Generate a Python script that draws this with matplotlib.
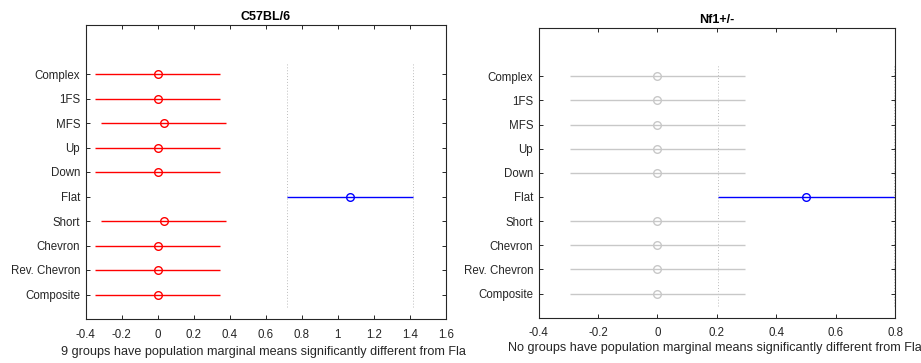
import matplotlib
matplotlib.use("Agg")
import matplotlib.pyplot as plt
from matplotlib.transforms import Bbox, TransformedBbox

plt.rcParams['font.family'] = ['Liberation Sans', 'DejaVu Sans']

# Groups, listed top to bottom
groups = ["Complex", "1FS", "MFS", "Up", "Down", "Flat", "Short",
          "Chevron", "Rev. Chevron", "Composite"]

# C57BL/6: population marginal means and comparison interval half-widths
wt_means = [0.0, 0.0, 0.034, 0.0, 0.0, 1.068, 0.034, 0.0, 0.0, 0.0]
wt_half = [0.347, 0.347, 0.347, 0.347, 0.347, 0.348, 0.347, 0.347, 0.347, 0.347]
wt_colors = ["red", "red", "red", "red", "red", "blue", "red", "red", "red", "red"]
wt_xticks = [-0.4, -0.2, 0, 0.2, 0.4, 0.6, 0.8, 1, 1.2, 1.4, 1.6]
wt_xticklabels = ["-0.4", "-0.2", "0", "0.2", "0.4", "0.6", "0.8", "1", "1.2", "1.4", "1.6"]

# Nf1+/-
nf_means = [0.0, 0.0, 0.0, 0.0, 0.0, 0.5, 0.0, 0.0, 0.0, 0.0]
nf_half = [0.295] * 10
nf_colors = ["#c8c8c8"] * 5 + ["blue"] + ["#c8c8c8"] * 4
nf_xticks = [-0.4, -0.2, 0, 0.2, 0.4, 0.6, 0.8]
nf_xticklabels = ["-0.4", "-0.2", "0", "0.2", "0.4", "0.6", "0.8"]

ref_group = "Flat"
txt = "#262626"

fig = plt.figure(figsize=(9.21, 3.63), dpi=100)
ax1 = fig.add_axes([85.7 / 921, 1 - 319 / 363, 360 / 921, 294 / 363])
ax2 = fig.add_axes([538.7 / 921, 1 - 317.7 / 363, 356.3 / 921, 289.7 / 363])


def draw_panel(ax, means, half, colors, xticks, xticklabels, xlim, title, xlabel, labelpad):
    n = len(groups)
    ypos = list(range(n, 0, -1))
    for y, m, h, c in zip(ypos, means, half, colors):
        ax.plot([m - h, m + h], [y, y], color=c, lw=1.0, solid_capstyle="butt", zorder=2)
        ax.plot([m], [y], marker="o", ms=5.5, mfc="none", mec=c, mew=1.0, zorder=3)
    k = groups.index(ref_group)
    for xv in (means[k] - half[k], means[k] + half[k]):
        ax.plot([xv, xv], [0.5, n + 0.5], color="#bdbdbd", lw=0.7, ls=(0, (1, 2)), zorder=1)
    ax.set_xlim(*xlim)
    ax.set_ylim(0, n + 2)
    ax.set_yticks(ypos)
    ax.set_yticklabels(groups)
    ax.set_xticks(xticks)
    ax.set_xticklabels(xticklabels)
    ax.tick_params(direction="in", length=3, width=0.7, colors=txt, labelsize=8.3,
                   top=True, right=True)
    ax.tick_params(axis="y", pad=4)
    ax.tick_params(axis="x", pad=7)
    for s in ax.spines.values():
        s.set_color(txt)
        s.set_linewidth(0.8)
    ax.set_title(title, fontsize=9, fontweight="bold", color="black", pad=3.5)
    return ax.set_xlabel(xlabel, fontsize=9.1, color=txt, labelpad=labelpad)


lab1 = draw_panel(ax1, wt_means, wt_half, wt_colors, wt_xticks, wt_xticklabels, (-0.4, 1.6),
                  "C57BL/6",
                  "9 groups have population marginal means significantly different from Flat", 3.5)
lab2 = draw_panel(ax2, nf_means, nf_half, nf_colors, nf_xticks, nf_xticklabels, (-0.4, 0.8),
                  "Nf1+/-",
                  "No groups have population marginal means significantly different from Flat", 2)

# the left caption stops at the edge of its own panel area
lab1.set_clip_box(TransformedBbox(Bbox([[0, 0], [466 / 921, 1]]), fig.transFigure))
lab1.set_clip_on(True)

fig.savefig("out.png", dpi=100)
